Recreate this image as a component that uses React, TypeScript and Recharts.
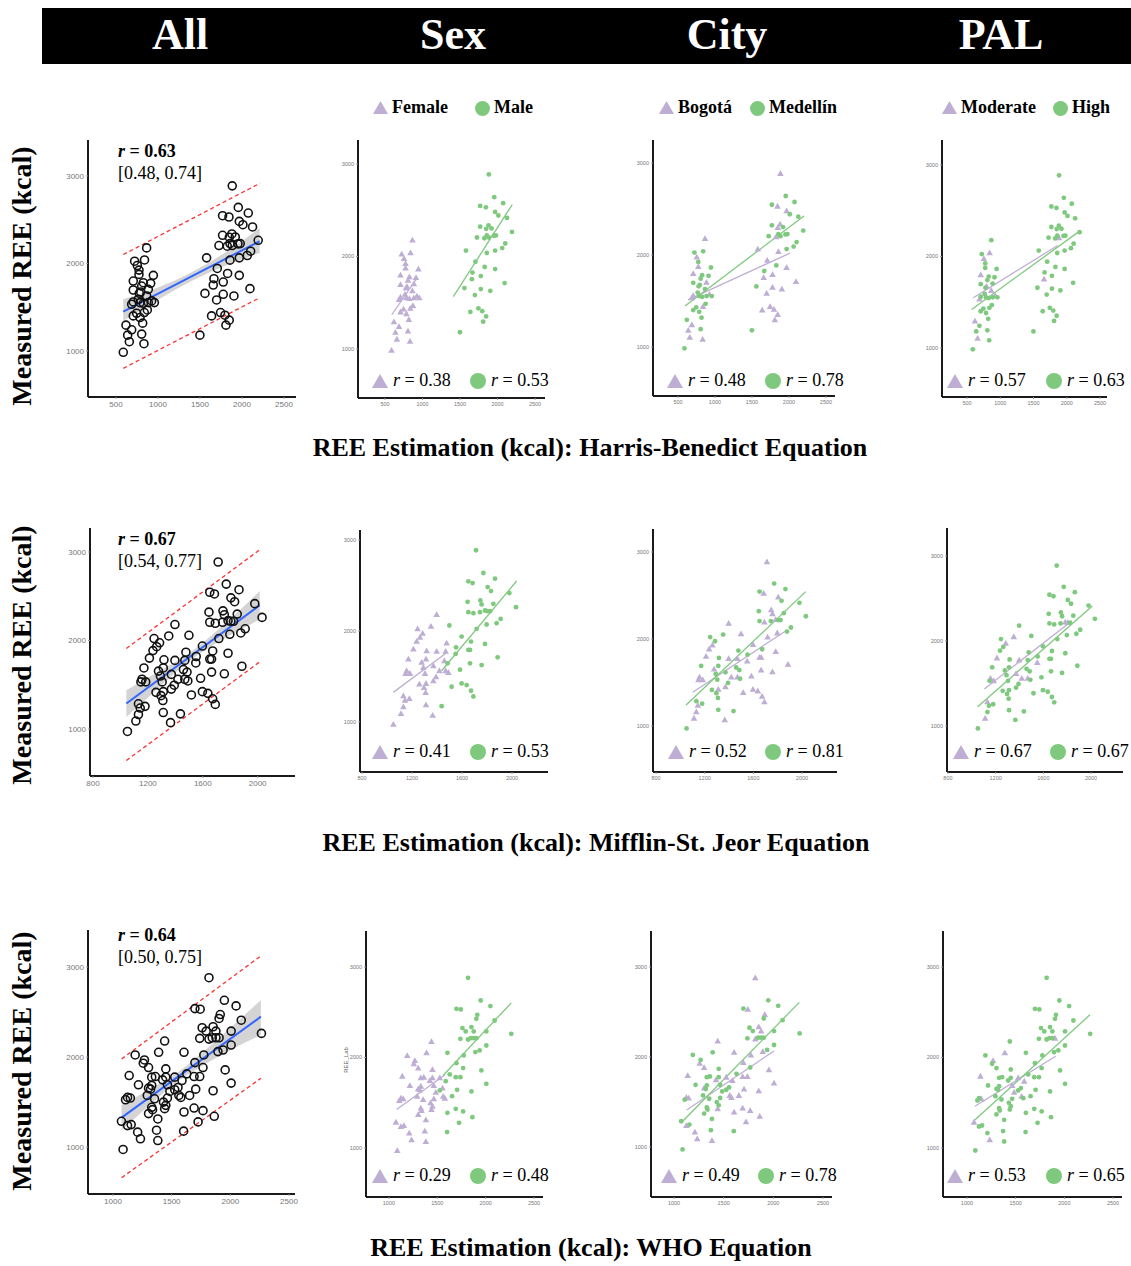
import React from 'react';
import { ComposedChart, Scatter, Area, XAxis, YAxis, ReferenceLine } from 'recharts';

// point = [REE estimate, measured REE, female?, Bogotá?, moderate PAL?]
type Pt = [number, number, number, number, number];

const PURPLE = '#BEAED4';
const GREEN = '#7FC97F';
const SERIF = '"Liberation Serif", "Times New Roman", serif';
const SANS = '"Liberation Sans", Arial, sans-serif';

const columns = ['All', 'Sex', 'City', 'PAL'];
const equations = [
  'REE Estimation (kcal): Harris-Benedict Equation',
  'REE Estimation (kcal): Mifflin-St. Jeor Equation',
  'REE Estimation (kcal): WHO Equation',
];
const groupLabels = [
  ['Female', 'Male'],
  ['Bogotá', 'Medellín'],
  ['Moderate', 'High'],
];

const allR = ['0.63', '0.67', '0.64'];
const allCI = ['[0.48, 0.74]', '[0.54, 0.77]', '[0.50, 0.75]'];
const sexR = [['0.38', '0.53'], ['0.41', '0.53'], ['0.29', '0.48']];
const cityR = [['0.48', '0.78'], ['0.52', '0.81'], ['0.49', '0.78']];
const palR = [['0.57', '0.63'], ['0.67', '0.67'], ['0.53', '0.65']];

// Harris-Benedict
const hbPoints: Pt[] = [
  [587, 985, 1, 0, 0], [659, 1106, 1, 1, 1], [639, 1181, 1, 1, 0], [687, 1242, 1, 1, 0],
  [619, 1295, 1, 0, 1], [806, 1193, 1, 0, 0], [833, 1083, 1, 1, 0], [818, 1318, 1, 0, 0],
  [786, 1382, 1, 0, 0], [746, 1431, 1, 0, 0], [873, 1469, 1, 0, 0], [837, 1439, 1, 1, 0],
  [687, 1534, 1, 1, 1], [706, 1560, 1, 1, 0], [786, 1553, 1, 0, 0], [826, 1545, 1, 0, 0],
  [865, 1629, 1, 0, 1], [925, 1572, 1, 1, 1], [957, 1553, 1, 0, 0], [778, 1659, 1, 0, 0],
  [794, 1674, 1, 0, 1], [706, 1697, 1, 0, 0], [885, 1704, 1, 1, 0], [913, 1773, 1, 0, 0],
  [826, 1780, 1, 0, 0], [706, 1799, 1, 1, 1], [806, 1742, 1, 0, 0], [945, 1864, 1, 0, 0],
  [774, 1875, 1, 1, 0], [774, 1924, 1, 0, 0], [754, 1977, 1, 1, 1], [722, 2026, 1, 0, 0],
  [865, 2178, 1, 1, 0], [706, 1401, 1, 0, 0], [766, 1591, 1, 0, 0], [885, 1553, 1, 0, 0],
  [840, 2040, 1, 0, 1],
  [1499, 1181, 0, 0, 0], [1638, 1401, 0, 1, 0], [1745, 1439, 0, 1, 0], [1797, 1409, 0, 1, 0],
  [1848, 1352, 0, 1, 0], [1809, 1295, 0, 1, 0], [1559, 1658, 0, 0, 0], [1698, 1583, 0, 1, 0],
  [1777, 1648, 0, 1, 0], [1904, 1629, 0, 1, 0], [2095, 1712, 0, 1, 0], [1658, 1754, 0, 1, 1],
  [1666, 1826, 0, 0, 0], [1777, 1788, 0, 1, 0], [1829, 1886, 0, 0, 0], [1968, 1864, 0, 1, 0],
  [1706, 1943, 0, 1, 0], [1579, 2064, 0, 1, 0], [1857, 2038, 0, 1, 0], [1968, 2064, 0, 0, 0],
  [2063, 2091, 0, 0, 0], [2103, 2140, 0, 0, 0], [1726, 2205, 0, 0, 0], [1825, 2197, 0, 1, 0],
  [1884, 2205, 0, 0, 1], [1952, 2224, 0, 0, 0], [1979, 2227, 0, 0, 0], [1769, 2322, 0, 0, 0],
  [1849, 2299, 0, 1, 0], [1880, 2337, 0, 1, 0], [1920, 2303, 0, 0, 0], [2193, 2265, 0, 0, 0],
  [2126, 2417, 0, 0, 0], [1968, 2481, 0, 1, 0], [2011, 2443, 0, 0, 0], [1769, 2546, 0, 0, 0],
  [1845, 2531, 0, 1, 0], [2075, 2576, 0, 0, 0], [1956, 2641, 0, 0, 0], [1884, 2887, 0, 1, 0],
  [1857, 2227, 0, 0, 0],
];
const hbFit = [[587, 1450], [2210, 2254]];
const hbUpper = [[587, 2102], [2215, 2917]];
const hbLower = [[587, 802], [2215, 1610]];
const hbBand = [[587, 1344, 1591], [1000, 1585, 1725], [1400, 1800, 1900], [1800, 1975, 2125], [2210, 2121, 2406]];
const hbSexFit = [[590, 1370, 922, 1760], [1411, 1565, 2197, 2562]];
const hbCityFit = [[635, 1511, 2013, 2020], [595, 1446, 2203, 2424]];
const hbPalFit = [[594, 1549, 1863, 2120], [570, 1421, 2172, 2266]];

// Mifflin-St. Jeor
const msjPoints: Pt[] = [
  [1397, 2180, 1, 1, 0], [1352, 2051, 1, 0, 1], [1245, 2022, 1, 0, 0], [1285, 1974, 1, 0, 1],
  [1264, 1930, 1, 1, 0], [1237, 1886, 1, 1, 0], [1211, 1801, 1, 1, 1], [1317, 1782, 1, 0, 0],
  [1397, 1775, 1, 1, 1], [1477, 1867, 1, 0, 0], [1469, 1775, 1, 1, 0], [1171, 1690, 1, 0, 0],
  [1277, 1654, 1, 1, 0], [1312, 1690, 1, 0, 0], [1291, 1598, 1, 0, 0], [1157, 1562, 1, 1, 1],
  [1149, 1532, 1, 1, 0], [1184, 1532, 1, 1, 1], [1371, 1617, 1, 0, 1], [1459, 1672, 1, 0, 0],
  [1469, 1562, 1, 1, 1], [1491, 1543, 1, 0, 0], [1419, 1562, 1, 1, 1], [1304, 1532, 1, 0, 0],
  [1392, 1495, 1, 0, 0], [1371, 1451, 1, 1, 0], [1259, 1414, 1, 0, 0], [1312, 1422, 1, 1, 0],
  [1296, 1377, 1, 0, 0], [1309, 1322, 1, 0, 0], [1131, 1285, 1, 0, 1], [1179, 1256, 1, 0, 0],
  [1144, 1237, 1, 1, 0], [1131, 1164, 1, 1, 0], [1312, 1186, 1, 0, 0], [1112, 1090, 1, 1, 1],
  [1365, 1072, 1, 1, 0], [1051, 972, 1, 0, 0],
  [1712, 2887, 0, 1, 0], [1771, 2637, 0, 0, 0], [1651, 2545, 0, 0, 0], [1685, 2526, 0, 1, 0],
  [1864, 2574, 0, 0, 0], [1805, 2482, 0, 1, 0], [1832, 2438, 0, 0, 0], [1979, 2416, 0, 0, 0],
  [1645, 2320, 0, 0, 0], [1747, 2335, 0, 1, 0], [1757, 2291, 0, 1, 0], [1851, 2298, 0, 0, 0],
  [2032, 2261, 0, 0, 0], [1651, 2206, 0, 0, 0], [1691, 2195, 0, 1, 0], [1744, 2206, 0, 0, 0],
  [1784, 2224, 0, 1, 1], [1805, 2217, 0, 0, 1], [1824, 2217, 0, 0, 0], [1909, 2132, 0, 0, 0],
  [1877, 2085, 0, 0, 0], [1797, 2070, 0, 1, 0], [1717, 2022, 0, 1, 0], [1499, 2059, 0, 1, 0],
  [1597, 1937, 0, 1, 0], [1672, 1882, 0, 0, 0], [1784, 1856, 0, 1, 0], [1552, 1819, 0, 0, 0],
  [1651, 1790, 0, 1, 0], [1664, 1790, 0, 1, 0], [1549, 1746, 0, 1, 1], [1885, 1709, 0, 1, 0],
  [1485, 1643, 0, 0, 0], [1664, 1643, 0, 1, 0], [1757, 1624, 0, 1, 0], [1584, 1573, 0, 1, 0],
  [1517, 1385, 0, 1, 0], [1597, 1422, 0, 1, 0], [1637, 1403, 0, 1, 0], [1672, 1341, 0, 1, 0],
  [1691, 1278, 0, 1, 0], [1437, 1171, 0, 0, 0],
];
const msjFit = [[1043, 1288], [2015, 2399]];
const msjUpper = [[1043, 1910], [2028, 3040]];
const msjLower = [[1043, 644], [2028, 1774]];
const msjBand = [[1043, 1137, 1439], [1250, 1425, 1625], [1500, 1765, 1855], [1750, 2016, 2176], [2015, 2237, 2558]];
const msjSexFit = [[1050, 1323, 1482, 1765], [1437, 1561, 2037, 2549]];
const msjCityFit = [[1102, 1388, 1866, 2092], [1047, 1242, 2031, 2544]];
const msjPalFit = [[1105, 1436, 1824, 2220], [1049, 1227, 2011, 2411]];

// WHO
const whoPoints: Pt[] = [
  [1440, 2177, 1, 1, 0], [1389, 2052, 1, 0, 1], [1189, 2023, 1, 0, 0], [1268, 1967, 1, 0, 1],
  [1258, 1931, 1, 1, 0], [1303, 1883, 1, 1, 0], [1138, 1794, 1, 1, 1], [1450, 1868, 1, 0, 0],
  [1330, 1776, 1, 0, 0], [1361, 1783, 1, 0, 0], [1423, 1746, 1, 1, 0], [1450, 1776, 1, 0, 0],
  [1526, 1776, 1, 1, 1], [1464, 1691, 1, 0, 1], [1217, 1691, 1, 0, 0], [1330, 1684, 1, 0, 0],
  [1320, 1643, 1, 0, 0], [1303, 1654, 1, 1, 0], [1554, 1662, 1, 0, 0], [1485, 1617, 1, 0, 1],
  [1292, 1573, 1, 0, 0], [1124, 1551, 1, 1, 0], [1148, 1544, 1, 1, 1], [1107, 1525, 1, 0, 0],
  [1354, 1536, 1, 0, 0], [1464, 1544, 1, 0, 0], [1561, 1573, 1, 1, 1], [1578, 1551, 1, 1, 0],
  [1430, 1499, 1, 0, 0], [1450, 1463, 1, 0, 0], [1330, 1441, 1, 0, 0], [1337, 1415, 1, 0, 0],
  [1303, 1371, 1, 0, 0], [1440, 1426, 1, 1, 0], [1072, 1286, 1, 0, 1], [1124, 1238, 1, 1, 0],
  [1155, 1249, 1, 0, 0], [1382, 1312, 1, 0, 0], [1210, 1165, 1, 1, 0], [1371, 1187, 1, 0, 0],
  [1234, 1091, 1, 1, 1], [1382, 1072, 1, 1, 0], [1086, 973, 1, 0, 0],
  [1818, 2881, 0, 1, 0], [1949, 2630, 0, 0, 0], [1698, 2538, 0, 0, 0], [1743, 2531, 0, 1, 0],
  [2049, 2568, 0, 0, 0], [1914, 2472, 0, 1, 0], [1904, 2428, 0, 0, 0], [2093, 2409, 0, 0, 0],
  [1760, 2325, 0, 0, 0], [1794, 2288, 0, 0, 0], [1853, 2336, 0, 1, 0], [1877, 2288, 0, 1, 0],
  [2007, 2288, 0, 0, 0], [1739, 2207, 0, 0, 0], [1818, 2199, 0, 1, 0], [1846, 2214, 0, 0, 0],
  [1877, 2214, 0, 0, 0], [1904, 2214, 0, 0, 1], [2265, 2262, 0, 0, 0], [1938, 2078, 0, 0, 0],
  [1894, 2060, 0, 1, 0], [2007, 2133, 0, 0, 0], [1605, 2052, 0, 1, 0], [1774, 2023, 0, 1, 0],
  [1698, 1938, 0, 1, 0], [1629, 1813, 0, 0, 0], [1767, 1883, 0, 0, 0], [1691, 1783, 0, 1, 0],
  [1739, 1783, 0, 1, 0], [1956, 1857, 0, 1, 0], [1588, 1739, 0, 1, 1], [1526, 1636, 0, 0, 0],
  [1705, 1643, 0, 1, 0], [1853, 1625, 0, 1, 0], [2007, 1710, 0, 1, 0], [1653, 1573, 0, 1, 0],
  [1691, 1433, 0, 1, 0], [1767, 1404, 0, 1, 0], [1863, 1341, 0, 1, 0], [1725, 1279, 0, 1, 0],
  [1605, 1389, 0, 1, 0], [1602, 1176, 0, 0, 0],
];
const whoFit = [[1073, 1326], [2260, 2448]];
const whoUpper = [[1073, 1978], [2260, 3123]];
const whoLower = [[1073, 659], [2260, 1763]];
const whoBand = [[1073, 1189, 1467], [1300, 1451, 1631], [1550, 1727, 1827], [1850, 1970, 2150], [2260, 2245, 2634]];
const whoSexFit = [[1079, 1425, 1577, 1808], [1560, 1801, 2265, 2604]];
const whoCityFit = [[1128, 1411, 2007, 2067], [1077, 1274, 2262, 2607]];
const whoPalFit = [[1082, 1462, 1911, 2014], [1075, 1304, 2263, 2472]];

const yTicks = [1000, 2000, 3000];

type Box = { l: number; t: number; r: number; b: number; xd: [number, number]; yd: [number, number] };

// layout of each row: plot boxes of All / Sex / City / PAL
const rows = [
  {
    pts: hbPoints, fit: hbFit, upper: hbUpper, lower: hbLower, band: hbBand,
    groupFits: [hbSexFit, hbCityFit, hbPalFit],
    xTicks: [500, 1000, 1500, 2000, 2500],
    boxes: [
      { l: 88, t: 140, r: 296, b: 397, xd: [167, 2643], yd: [474, 3411] },
      { l: 358, t: 140, r: 545, b: 398, xd: [140, 2633], yd: [470, 3259] },
      { l: 653, t: 140, r: 835, b: 396, xd: [162, 2622], yd: [467, 3250] },
      { l: 942, t: 140, r: 1107, b: 397, xd: [124, 2605], yd: [464, 3273] },
    ] as Box[],
    legendY: 381, legendX: [[380, 478], [675, 773], [955, 1054]],
    textY: 152, captionY: 450, captionX: 590, labelY: 276,
  },
  {
    pts: msjPoints, fit: msjFit, upper: msjUpper, lower: msjLower, band: msjBand,
    groupFits: [msjSexFit, msjCityFit, msjPalFit],
    xTicks: [800, 1200, 1600, 2000],
    boxes: [
      { l: 90, t: 528, r: 295, b: 776, xd: [778, 2272], yd: [469, 3271] },
      { l: 360, t: 530, r: 548, b: 772, xd: [784, 2288], yd: [447, 3110] },
      { l: 653, t: 529, r: 837, b: 772, xd: [775, 2288], yd: [471, 3264] },
      { l: 947, t: 528, r: 1123, b: 772, xd: [792, 2268], yd: [459, 3329] },
    ] as Box[],
    legendY: 752, legendX: [[380, 478], [676, 773], [961, 1058]],
    textY: 540, captionY: 845, captionX: 596, labelY: 655,
  },
  {
    pts: whoPoints, fit: whoFit, upper: whoUpper, lower: whoLower, band: whoBand,
    groupFits: [whoSexFit, whoCityFit, whoPalFit],
    xTicks: [1000, 1500, 2000, 2500],
    boxes: [
      { l: 88, t: 930, r: 295, b: 1194, xd: [787, 2551], yd: [478, 3411] },
      { l: 366, t: 931, r: 543, b: 1197, xd: [763, 2593], yd: [459, 3398] },
      { l: 651, t: 931, r: 832, b: 1197, xd: [768, 2591], yd: [444, 3400] },
      { l: 943, t: 931, r: 1122, b: 1197, xd: [754, 2592], yd: [459, 3398] },
    ] as Box[],
    legendY: 1176, legendX: [[380, 478], [669, 766], [955, 1054]],
    textY: 936, captionY: 1250, captionX: 591, labelY: 1061,
  },
];

const rValues = [sexR, cityR, palR];
const headerX = [180, 453, 727, 1001];
const topLegendX = [[380, 482], [666, 757], [949, 1060]];

const YW = 30;
const XH = 16;
const RM = 12;

const OpenCircle = (p: any) => (
  <circle cx={p.cx} cy={p.cy} r={4} fill="none" stroke="#111" strokeWidth={1.6} />
);
const Tri = (p: any) => (
  <path d={`M${p.cx} ${p.cy - 3.3}L${p.cx + 3.3} ${p.cy + 2.5}L${p.cx - 3.3} ${p.cy + 2.5}Z`} fill={PURPLE} />
);
const Dot = (p: any) => <circle cx={p.cx} cy={p.cy} r={2.4} fill={GREEN} />;

function axes(box: Box, xTicks: number[], fs: number) {
  const tick = { fontSize: fs, fill: '#777', fontFamily: SANS };
  return [
    <XAxis key="x" type="number" dataKey="x" domain={box.xd} ticks={xTicks} allowDataOverflow interval={0}
      height={XH} axisLine={{ stroke: '#1a1a1a', strokeWidth: 2 }} tickLine={{ stroke: '#999' }} tickSize={2} tick={tick} />,
    <YAxis key="y" type="number" dataKey="y" domain={box.yd} ticks={yTicks} allowDataOverflow interval={0}
      width={YW} axisLine={{ stroke: '#1a1a1a', strokeWidth: 2 }} tickLine={{ stroke: '#999' }} tickSize={2} tick={tick} />,
  ];
}

function AllPanel({ row }: { row: (typeof rows)[number] }) {
  const box = row.boxes[0];
  const seg = (s: number[][]) => [{ x: s[0][0], y: s[0][1] }, { x: s[1][0], y: s[1][1] }];
  return (
    <div style={{ position: 'absolute', left: box.l - YW, top: box.t }}>
      <ComposedChart width={box.r - box.l + YW + RM} height={box.b - box.t + XH} margin={{ top: 0, right: RM, bottom: 0, left: 0 }}>
        {axes(box, row.xTicks, 8)}
        <Area data={row.band.map(([x, lo, hi]) => ({ x, band: [lo, hi] }))} dataKey="band" type="monotone"
          stroke="none" fill="#a0a0a0" fillOpacity={0.45} isAnimationActive={false} />
        <Scatter data={row.pts.map((p) => ({ x: p[0], y: p[1] }))} shape={OpenCircle} isAnimationActive={false} />
        <ReferenceLine segment={seg(row.upper)} stroke="#ff3030" strokeWidth={1.3} strokeDasharray="4 3" />
        <ReferenceLine segment={seg(row.lower)} stroke="#ff3030" strokeWidth={1.3} strokeDasharray="4 3" />
        <ReferenceLine segment={seg(row.fit)} stroke="#3366ff" strokeWidth={2} />
      </ComposedChart>
    </div>
  );
}

function GroupPanel({ row, g }: { row: (typeof rows)[number]; g: number }) {
  const box = row.boxes[g + 1];
  const fits = row.groupFits[g];
  const purple = row.pts.filter((p) => p[2 + g] === 1).map((p) => ({ x: p[0], y: p[1] }));
  const green = row.pts.filter((p) => p[2 + g] === 0).map((p) => ({ x: p[0], y: p[1] }));
  const seg = (f: number[]) => [{ x: f[0], y: f[1] }, { x: f[2], y: f[3] }];
  return (
    <div style={{ position: 'absolute', left: box.l - YW, top: box.t }}>
      <ComposedChart width={box.r - box.l + YW + RM} height={box.b - box.t + XH} margin={{ top: 0, right: RM, bottom: 0, left: 0 }}>
        {axes(box, row.xTicks, 5.5)}
        <Scatter data={purple} shape={Tri} isAnimationActive={false} />
        <Scatter data={green} shape={Dot} isAnimationActive={false} />
        <ReferenceLine segment={seg(fits[0])} stroke={PURPLE} strokeWidth={1.3} />
        <ReferenceLine segment={seg(fits[1])} stroke={GREEN} strokeWidth={1.3} />
      </ComposedChart>
    </div>
  );
}

const TriIcon = ({ x, y, w }: { x: number; y: number; w: number }) => (
  <svg width={w} height={w * 0.87} style={{ position: 'absolute', left: x - w / 2, top: y - w * 0.435 }}>
    <path d={`M${w / 2} 0L${w} ${w * 0.87}L0 ${w * 0.87}Z`} fill={PURPLE} />
  </svg>
);
const DotIcon = ({ x, y, w }: { x: number; y: number; w: number }) => (
  <svg width={w} height={w} style={{ position: 'absolute', left: x - w / 2, top: y - w / 2 }}>
    <circle cx={w / 2} cy={w / 2} r={w / 2} fill={GREEN} />
  </svg>
);

const txt = (x: number, y: number, size: number, bold = false): React.CSSProperties => ({
  position: 'absolute', left: x, top: y - size * 0.6, fontSize: size, lineHeight: `${size + 2}px`,
  fontWeight: bold ? 'bold' : 'normal', whiteSpace: 'nowrap', color: '#000',
});

export default function App() {
  return (
    <div style={{ position: 'absolute', left: 0, top: 0, width: 1131, height: 1266, background: '#fff', overflow: 'hidden', fontFamily: SERIF }}>
      <div style={{ position: 'absolute', left: 42, top: 8, width: 1089, height: 56, background: '#000' }} />
      {columns.map((c, i) => (
        <div key={c} style={{ position: 'absolute', left: headerX[i] - 100, width: 200, top: 11, textAlign: 'center', color: '#fff', fontSize: 44, fontWeight: 'bold', lineHeight: '48px' }}>{c}</div>
      ))}

      {groupLabels.map((lab, g) => (
        <React.Fragment key={lab[0]}>
          <TriIcon x={topLegendX[g][0]} y={108} w={15} />
          <div style={txt(topLegendX[g][0] + 12, 108, 18, true)}>{lab[0]}</div>
          <DotIcon x={topLegendX[g][1]} y={108} w={15} />
          <div style={txt(topLegendX[g][1] + 12, 108, 18, true)}>{lab[1]}</div>
        </React.Fragment>
      ))}

      {rows.map((row, ri) => (
        <React.Fragment key={ri}>
          <div style={{ position: 'absolute', left: 22, top: row.labelY, transform: 'translate(-50%, -50%) rotate(-90deg)', fontSize: 28, fontWeight: 'bold', whiteSpace: 'nowrap', lineHeight: '30px' }}>
            Measured REE (kcal)
          </div>
          <AllPanel row={row} />
          <div style={txt(118, row.textY, 18, true)}><i>r</i> = {allR[ri]}</div>
          <div style={txt(118, row.textY + 22, 18)}>{allCI[ri]}</div>
          {[0, 1, 2].map((g) => (
            <React.Fragment key={g}>
              <GroupPanel row={row} g={g} />
              <TriIcon x={row.legendX[g][0]} y={row.legendY} w={16} />
              <div style={txt(row.legendX[g][0] + 13, row.legendY, 18)}><i>r</i> = {rValues[g][ri][0]}</div>
              <DotIcon x={row.legendX[g][1]} y={row.legendY} w={16} />
              <div style={txt(row.legendX[g][1] + 13, row.legendY, 18)}><i>r</i> = {rValues[g][ri][1]}</div>
            </React.Fragment>
          ))}
          <div style={{ position: 'absolute', left: row.captionX - 400, width: 800, top: row.captionY - 16, textAlign: 'center', fontSize: 26, fontWeight: 'bold', lineHeight: '28px' }}>
            {equations[ri]}
          </div>
        </React.Fragment>
      ))}
      <div style={{ position: 'absolute', left: 346, top: 1060, transform: 'translate(-50%, -50%) rotate(-90deg)', fontSize: 6, color: '#666', fontFamily: SANS, whiteSpace: 'nowrap' }}>REE_Lab</div>
    </div>
  );
}
